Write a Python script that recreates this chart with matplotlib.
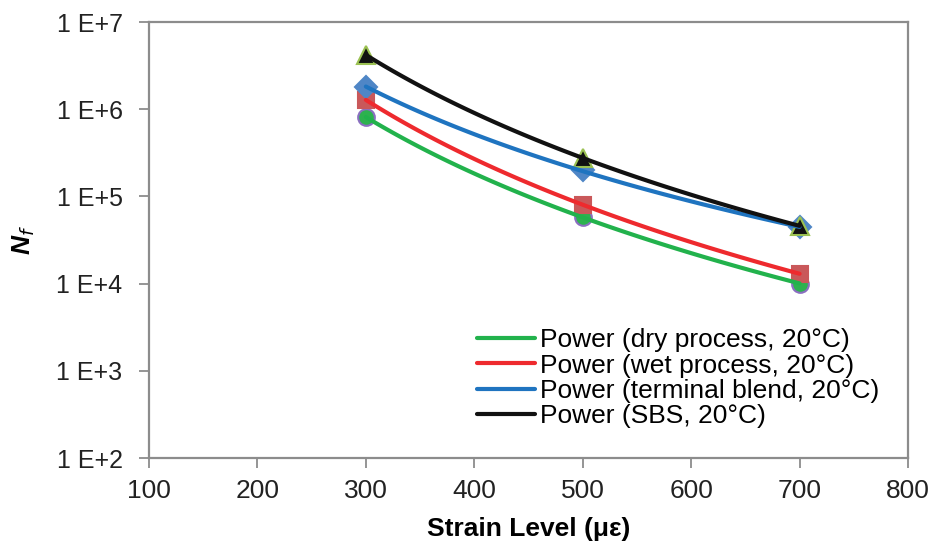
import numpy as np
import matplotlib.pyplot as plt
from matplotlib.ticker import FixedLocator, FixedFormatter

plt.rcParams['font.family'] = ['Liberation Sans', 'DejaVu Sans']

# strain levels (micro-strain)
strain = [300, 500, 700]

# cycles to failure
nf_dry = [8.1e5, 5.8e4, 1.0e4]
nf_wet = [1.28e6, 8.0e4, 1.3e4]
nf_tb = [1.8e6, 2.0e5, 4.4e4]
nf_sbs = [4.2e6, 2.75e5, 4.6e4]

labels = ['Power (dry process, 20°C)', 'Power (wet process, 20°C)',
          'Power (terminal blend, 20°C)', 'Power (SBS, 20°C)']

y_ticks = [1e2, 1e3, 1e4, 1e5, 1e6, 1e7]
y_tick_labels = ['1 E+2', '1 E+3', '1 E+4', '1 E+5', '1 E+6', '1 E+7']
x_ticks = [100, 200, 300, 400, 500, 600, 700, 800]

fig = plt.figure(figsize=(9.48, 5.44), dpi=100)
ax = fig.add_axes([149 / 948, 1 - 458 / 544, (908 - 149) / 948, (458 - 22) / 544])

series = [
    (nf_dry, '#22b24c', 'o', '#2db24f', '#8a6fc0', 12),
    (nf_wet, '#ee2a2e', 's', '#c9585a', '#c9585a', 12),
    (nf_tb, '#1f74c0', 'D', '#4f86c6', '#4f86c6', 11),
    (nf_sbs, '#111111', '^', '#111111', '#9bc152', 13),
]

xs = np.linspace(300, 700, 100)
for (vals, lc, mk, mfc, mec, ms) in series:
    ax.plot(strain, vals, linestyle='none', marker=mk, markersize=ms,
            markerfacecolor=mfc, markeredgecolor=mec, markeredgewidth=1.5, zorder=3)

lines = []
for (vals, lc, mk, mfc, mec, ms), lab in zip(series, labels):
    # power-law trendline fit in log-log space
    b, loga = np.polyfit(np.log(strain), np.log(vals), 1)
    ln, = ax.plot(xs, np.exp(loga) * xs ** b, color=lc, linewidth=3,
                  solid_capstyle='round', label=lab, zorder=4)
    lines.append(ln)

ax.set_yscale('log')
ax.set_xlim(100, 800)
ax.set_ylim(1e2, 1e7)
ax.yaxis.set_major_locator(FixedLocator(y_ticks))
ax.yaxis.set_major_formatter(FixedFormatter(y_tick_labels))
ax.yaxis.set_minor_locator(FixedLocator([]))
ax.set_xticks(x_ticks)

for sp in ax.spines.values():
    sp.set_color('#8c8c8c')
    sp.set_linewidth(1.6)
ax.tick_params(axis='both', direction='out', length=7, width=1.3,
               color='#8c8c8c', labelcolor='#222222')
ax.tick_params(axis='x', labelsize=19, pad=8)
ax.tick_params(axis='y', labelsize=18, pad=12)

ax.set_xlabel('Strain Level (\u03bc\u03b5)', fontsize=19, fontweight='bold', labelpad=10)
ax.set_ylabel('N$_f$', fontsize=19, fontweight='bold', fontstyle='italic', labelpad=14)

ax.legend(handles=lines, loc='lower right', bbox_to_anchor=(0.976, 0.044), frameon=False,
          fontsize=19, handlelength=2.2, handletextpad=0.2, labelspacing=0.05,
          borderaxespad=0.0)

fig.savefig('out.png', dpi=100)
